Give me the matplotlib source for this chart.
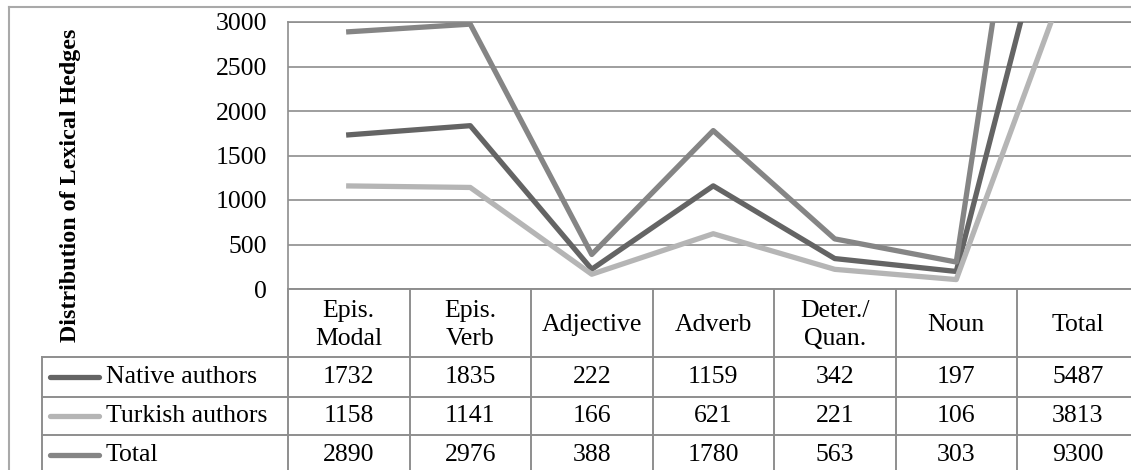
import matplotlib
matplotlib.use("Agg")
import matplotlib.pyplot as plt
from matplotlib.transforms import blended_transform_factory

# Data
categories = ["Epis.\nModal", "Epis.\nVerb", "Adjective", "Adverb", "Deter./\nQuan.", "Noun", "Total"]
series_names = ["Native authors", "Turkish authors", "Total"]
native = [1732, 1835, 222, 1159, 342, 197, 5487]
turkish = [1158, 1141, 166, 621, 221, 106, 3813]
total = [2890, 2976, 388, 1780, 563, 303, 9300]
yticks = [0, 500, 1000, 1500, 2000, 2500, 3000]

series = [native, turkish, total]
colors = ["#646464", "#b5b5b5", "#858585"]

W, H = 1131, 470
plt.rcParams["font.family"] = ["Liberation Serif", "DejaVu Serif"]
FS = 18.5
GRID = "#8e8e8e"

fig = plt.figure(figsize=(W / 100, H / 100), dpi=100)

# Overlay in pixel coordinates for borders and the data table
ov = fig.add_axes([0, 0, 1, 1])
ov.set_xlim(0, W)
ov.set_ylim(H, 0)
ov.axis("off")

# Plot area: left edge at 288 px, top at 22 px, bottom at 289 px, 7 columns of ~121.5 px
left, top, bottom, colw = 288, 22, 289, 121.5
ax = fig.add_axes([left / W, 1 - bottom / H, 7 * colw / W, (bottom - top) / H])
ax.set_facecolor("none")
ax.set_xlim(-0.5, len(categories) - 0.5)
ax.set_ylim(0, 3000)
ax.set_yticks(yticks)
ax.set_yticklabels([str(v) for v in yticks], fontsize=FS)
ax.tick_params(axis="y", length=0, pad=15)
ax.set_xticks([])
ax.grid(axis="y", color=GRID, linewidth=1.2)
ax.set_axisbelow(True)
for s in ["right", "bottom"]:
    ax.spines[s].set_visible(False)
ax.spines["top"].set_color(GRID)
ax.spines["left"].set_color(GRID)
ax.spines["top"].set_linewidth(1.2)
ax.spines["left"].set_linewidth(1.2)

x = list(range(len(categories)))
for vals, c in zip(series, colors):
    ax.plot(x, vals, color=c, linewidth=3.8, solid_joinstyle="round", zorder=3)

# Axis title
ov.text(71, 185, "Distribution of Lexical Hedges", rotation=90, fontsize=17.3,
        fontweight="bold", ha="center", va="center")

# Outer chart border
bc = "#a9a9a9"
ov.plot([9, 9], [7, H + 5], color=bc, lw=1.5)
ov.plot([9, W + 5], [7, 7], color=bc, lw=1.5)

# Data table
tr = blended_transform_factory(ax.transData, ov.transData)
row_lines = [bottom, 357, 397, 435]
row_centers = [377, 416, 455]
header_center = (bottom + 357) / 2 + 2

# horizontal rules
ov.plot([left, W + 5], [bottom, bottom], color=GRID, lw=1.4)
for yl in row_lines[1:]:
    ov.plot([42, W + 5], [yl, yl], color=GRID, lw=1.4)
# vertical rules
ov.plot([42, 42], [357, H + 5], color=GRID, lw=1.4)
for k in range(len(categories) + 1):
    xb = k - 0.5
    ax.plot([xb, xb], [bottom, H + 5], color=GRID, lw=1.4, transform=tr,
            clip_on=False)

for i, cat in enumerate(categories):
    ax.text(i, header_center, cat, transform=tr, ha="center", va="center",
            fontsize=FS, linespacing=1.35, clip_on=False)

for r, (name, vals, c) in enumerate(zip(series_names, series, colors)):
    yc = row_centers[r]
    ov.plot([50, 99], [yc, yc], color=c, lw=3.8, solid_capstyle="round")
    ov.text(106, yc, name, ha="left", va="center", fontsize=FS)
    for i, v in enumerate(vals):
        ax.text(i, yc, str(v), transform=tr, ha="center", va="center",
                fontsize=FS, clip_on=False)

fig.savefig("out.png", dpi=100)
